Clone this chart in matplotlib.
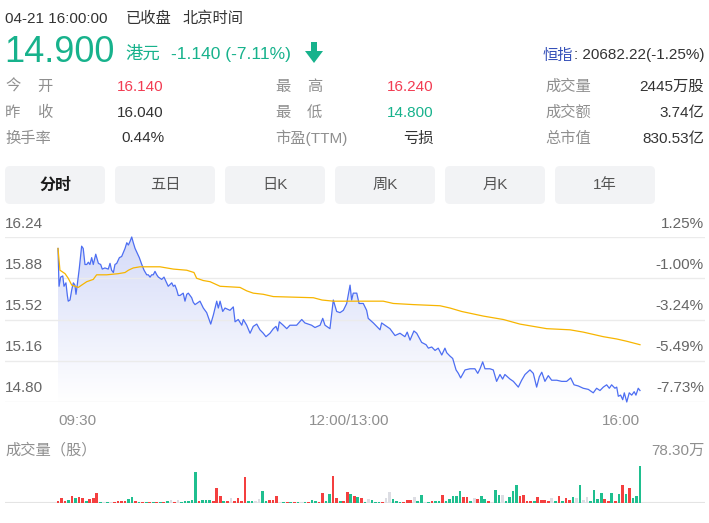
import numpy as np
import matplotlib.pyplot as plt
from matplotlib.patches import FancyBboxPatch, Polygon
from matplotlib.colors import LinearSegmentedColormap

plt.rcParams['font.family'] = ['Liberation Sans', 'Noto Sans CJK SC']

W, H = 709, 523

# =========================
# DATA
# =========================
prev_close = 16.04
y_ticks = [16.24, 15.88, 15.52, 15.16, 14.80]
x_labels = ["09:30", "12:00/13:00", "16:00"]
tabs = ["分时", "五日", "日K", "周K", "月K", "1年"]

# minutes since 09:30 (trading minutes) and price
price_min = [0.0, 0.6, 1.5, 2.7, 3.4, 4.5, 5.3, 5.8, 6.8, 7.8,
             8.7, 9.6, 10.2, 10.9, 12.1, 13.4, 14.3, 15.3, 16.3, 17.2,
             18.1, 19.1, 20.0, 21.4, 22.9, 24.2, 25.1, 26.6, 28.5, 29.5,
             30.4, 31.4, 32.3, 33.3, 34.8, 36.1, 38.0, 39.0, 39.9, 40.8,
             41.8, 42.7, 43.7, 44.6, 46.1, 47.5, 48.8, 50.3, 51.2, 52.2,
             53.1, 54.0, 55.0, 56.0, 56.9, 57.8, 58.8, 60.1, 61.6, 62.5,
             64.5, 65.4, 66.3, 67.3, 68.2, 69.2, 71.0, 72.0, 73.0, 73.9,
             75.8, 76.7, 77.7, 80.5, 82.4, 84.3, 86.6, 88.1, 90.0, 90.9,
             91.9, 93.4, 94.7, 97.5, 99.4, 100.4, 102.2, 104.2, 105.1, 107.0,
             108.9, 110.7, 112.7, 114.5, 116.4, 117.9, 120.2, 122.1, 123.6, 124.6,
             125.5, 127.7, 129.7, 131.5, 135.3, 138.2, 140.0, 143.8, 145.7, 148.6,
             150.1, 151.4, 154.2, 156.1, 158.0, 159.9, 161.8, 163.7, 165.6, 166.5,
             167.4, 169.4, 170.7, 173.1, 175.0, 175.9, 178.8, 180.7, 182.6, 183.5,
             185.4, 188.2, 191.1, 193.9, 196.7, 198.0, 199.6, 201.8, 203.4, 206.2,
             208.7, 210.0, 211.9, 213.8, 215.6, 217.6, 219.4, 220.4, 222.3, 223.8,
             225.7, 227.0, 228.3, 230.8, 233.6, 236.4, 238.0, 239.3, 240.8, 242.1,
             244.9, 246.8, 248.7, 250.6, 252.1, 253.4, 256.3, 258.2, 261.0, 262.9,
             264.8, 267.6, 269.5, 271.4, 272.9, 274.3, 276.1, 278.0, 279.9, 282.8,
             285.6, 288.4, 290.7, 292.6, 295.0, 297.8, 300.7, 303.5, 305.4, 307.3,
             309.2, 311.1, 312.6, 313.9, 315.8, 316.8, 317.7, 319.0, 320.2, 321.1,
             322.5, 323.9, 325.3, 326.7, 327.7, 329.0, 330.0]
price = [16.14, 15.81, 15.89, 15.90, 15.81, 15.84, 15.73, 15.68, 15.69, 15.78,
         15.84, 15.82, 15.74, 15.82, 15.97, 16.16, 16.14, 16.00, 16.00, 16.02,
         16.00, 16.06, 16.00, 16.09, 16.01, 16.00, 15.96, 15.97, 15.96, 16.01,
         15.95, 15.93, 16.00, 16.01, 16.06, 16.07, 16.14, 16.19, 16.17, 16.20,
         16.24, 16.19, 16.14, 16.11, 16.06, 16.00, 15.95, 15.91, 15.91, 15.89,
         15.91, 15.91, 15.94, 15.91, 15.89, 15.88, 15.87, 15.89, 15.84, 15.81,
         15.84, 15.81, 15.82, 15.78, 15.73, 15.73, 15.75, 15.68, 15.74, 15.75,
         15.71, 15.67, 15.65, 15.68, 15.62, 15.58, 15.48, 15.56, 15.68, 15.62,
         15.68, 15.59, 15.62, 15.60, 15.63, 15.50, 15.52, 15.47, 15.52, 15.47,
         15.40, 15.46, 15.48, 15.43, 15.40, 15.37, 15.40, 15.44, 15.46, 15.42,
         15.50, 15.47, 15.44, 15.47, 15.47, 15.52, 15.49, 15.47, 15.45, 15.47,
         15.53, 15.47, 15.44, 15.69, 15.59, 15.58, 15.60, 15.66, 15.82, 15.69,
         15.75, 15.75, 15.66, 15.66, 15.60, 15.53, 15.49, 15.46, 15.43, 15.49,
         15.47, 15.44, 15.38, 15.40, 15.37, 15.41, 15.34, 15.42, 15.40, 15.32,
         15.30, 15.27, 15.28, 15.25, 15.27, 15.21, 15.27, 15.23, 15.20, 15.18,
         15.08, 15.05, 15.01, 15.08, 15.09, 15.09, 15.05, 15.09, 15.15, 15.09,
         15.09, 15.08, 14.98, 15.04, 15.00, 15.04, 15.00, 14.98, 14.93, 14.99,
         15.04, 15.08, 15.05, 14.93, 15.02, 15.06, 14.98, 15.03, 14.99, 14.99,
         14.98, 14.98, 15.01, 14.95, 14.94, 14.92, 14.91, 14.88, 14.92, 14.90,
         14.93, 14.95, 14.92, 14.95, 14.92, 14.93, 14.85, 14.86, 14.82, 14.88,
         14.80, 14.88, 14.86, 14.89, 14.86, 14.92, 14.90]

avg_min = [0.0, 1.1, 2.1, 4.0, 5.8, 7.8, 9.6, 11.5, 13.4, 16.3,
           20.0, 21.9, 27.6, 34.2, 38.0, 39.9, 42.7, 46.5, 57.8, 65.4,
           73.0, 77.1, 78.6, 82.4, 86.2, 91.9, 103.2, 107.0, 110.7, 116.4,
           122.1, 144.8, 149.7, 156.1, 170.3, 184.4, 190.1, 201.5, 216.6, 222.3,
           228.9, 241.1, 252.5, 261.9, 277.1, 290.3, 297.8, 309.2, 316.8, 322.5,
           330.0]
avg_price = [16.14, 15.95, 15.94, 15.92, 15.88, 15.82, 15.81, 15.80, 15.82, 15.85,
             15.87, 15.91, 15.91, 15.92, 15.93, 15.95, 15.97, 15.98, 15.98, 15.96,
             15.95, 15.93, 15.88, 15.86, 15.85, 15.81, 15.80, 15.77, 15.75, 15.74,
             15.72, 15.71, 15.69, 15.68, 15.68, 15.68, 15.66, 15.65, 15.64, 15.62,
             15.59, 15.55, 15.52, 15.48, 15.44, 15.43, 15.41, 15.37, 15.35, 15.33,
             15.30]

# volume per 2-minute bar, in 万股
vol = [4.2, 10.6, 4.2, 7.0, 14.8, 10.6, 12.7, 10.6, 4.2, 8.5,
       10.6, 21.2, 2.1, 2.1, 1.5, 2.1, 2.1, 3.6, 4.9, 4.2,
       9.1, 12.1, 4.2, 1.5, 2.8, 2.1, 2.1, 2.1, 2.8, 2.1,
       2.8, 3.6, 6.3, 2.1, 6.3, 2.1, 3.6, 4.9, 7.0, 65.6,
       3.6, 7.0, 7.0, 5.7, 3.6, 31.7, 14.8, 3.6, 3.6, 10.6,
       4.9, 10.6, 4.9, 55.0, 4.9, 4.2, 3.6, 9.1, 25.4, 3.6,
       7.0, 7.0, 14.8, 2.1, 2.1, 2.1, 2.1, 2.1, 1.5, 2.1,
       2.1, 2.1, 7.0, 3.6, 2.1, 21.2, 3.6, 19.0, 57.1, 10.6,
       4.9, 3.6, 23.3, 19.0, 14.2, 12.7, 10.6, 1.5, 8.5, 5.7,
       1.5, 1.1, 1.5, 10.6, 23.3, 8.5, 3.6, 1.5, 1.5, 7.0,
       7.0, 12.1, 3.6, 16.9, 1.5, 1.1, 3.6, 4.9, 4.9, 16.9,
       3.6, 8.5, 14.2, 15.4, 25.4, 12.1, 12.1, 3.6, 10.6, 8.5,
       14.8, 8.5, 3.6, 1.5, 27.5, 16.3, 16.3, 3.6, 12.1, 25.4,
       38.1, 14.2, 17.6, 4.9, 3.6, 3.6, 12.1, 7.0, 7.0, 3.6,
       10.6, 3.6, 15.4, 4.9, 10.6, 7.0, 12.1, 10.6, 38.1, 7.0,
       12.1, 4.9, 27.5, 8.5, 21.2, 8.5, 4.2, 21.2, 4.9, 19.0,
       38.1, 19.0, 31.7, 10.6, 15.4, 78.3]
# r = up, g = down, n = flat
vol_dir = ("rrrgrgrrgr" "rrgngnrrrr" "ggrgrgrgrg" "rgnrnggggg"
           "rgggrrrgrn" "rrrrggnngg" "rrrngrgrgn" "grggrrggrr"
           "grrgrgrgng" "ggrnngggrr" "rnggngrggr" "gggggrrgnr"
           "ggrnggnggg" "grrrrgrrrr" "ngrgrrgngn" "nggggrrgrg"
           "rgrggg")

# =========================
# COLORS
# =========================
GREEN = '#17b28c'
RED = '#f23b52'
DARK = '#333333'
GRAY = '#8f8f8f'
vol_colors = {'r': '#f43f3f', 'g': '#1fbf8f', 'n': '#dcdde3'}

fig = plt.figure(figsize=(W / 100, H / 100), dpi=100)
fig.patch.set_facecolor('white')

# overlay in pixel coordinates for header / tabs
ov = fig.add_axes([0, 0, 1, 1])
ov.set_xlim(0, W)
ov.set_ylim(H, 0)
ov.axis('off')


def txt(x, y, s, size=11, color=DARK, ha='left', va='baseline', **kw):
    return ov.text(x, y, s, fontsize=size, color=color, ha=ha, va=va, **kw)


# =========================
# HEADER
# =========================
txt(5, 23, "04-21 16:00:00")
txt(126, 23, "已收盘")
txt(183, 23, "北京时间")

txt(4, 62, "14.900", size=26, color=GREEN)
txt(125, 58.5, "港元", size=12.5, color=GREEN)
txt(171, 58.5, "-1.140 (-7.11%)", size=12.5, color=GREEN)
ov.add_patch(Polygon([(311, 42), (317, 42), (317, 51), (323, 51), (314, 63),
                      (305, 51), (311, 51)], closed=True, fc=GREEN, ec='none'))

hsi = txt(704, 59.5, ": 20682.22(-1.25%)", size=11, ha='right')
renderer = fig.canvas.get_renderer()
bb = hsi.get_window_extent(renderer)
txt(bb.x0, 59.5, "恒指", size=11, color='#3550b8', ha='right')

rows_y = [91, 117, 142.5]
txt(5, rows_y[0], "今", color=GRAY); txt(37, rows_y[0], "开", color=GRAY)
txt(5, rows_y[1], "昨", color=GRAY); txt(37, rows_y[1], "收", color=GRAY)
txt(5, rows_y[2], "换手率", color=GRAY)
txt(164, rows_y[0], "16.140", color=RED, ha='right')
txt(164, rows_y[1], "16.040", ha='right')
txt(164, rows_y[2], "0.44%", ha='right')

txt(275, rows_y[0], "最", color=GRAY); txt(307, rows_y[0], "高", color=GRAY)
txt(275, rows_y[1], "最", color=GRAY); txt(307, rows_y[1], "低", color=GRAY)
txt(275, rows_y[2], "市盈(TTM)", color=GRAY)
txt(434, rows_y[0], "16.240", color=RED, ha='right')
txt(434, rows_y[1], "14.800", color=GREEN, ha='right')
txt(434, rows_y[2], "亏损", ha='right')

txt(545, rows_y[0], "成交量", color=GRAY)
txt(545, rows_y[1], "成交额", color=GRAY)
txt(545, rows_y[2], "总市值", color=GRAY)
txt(704, rows_y[0], "2445万股", ha='right')
txt(704, rows_y[1], "3.74亿", ha='right')
txt(704, rows_y[2], "830.53亿", ha='right')

# =========================
# TABS
# =========================
for i, name in enumerate(tabs):
    x0 = 5 + i * 110
    ov.add_patch(FancyBboxPatch((x0, 166), 100, 38,
                                boxstyle='round,pad=0,rounding_size=5',
                                fc='#f2f3f5', ec='none'))
    if i == 0:
        txt(x0 + 50, 185, name, size=11.5, color='#1a1a1a', ha='center',
            va='center', fontweight='bold')
    else:
        txt(x0 + 50, 185, name, size=11, color='#555555', ha='center', va='center')

# =========================
# PRICE CHART
# =========================
ppm = 582 / 330
x_lo = -(58 - 5) / ppm
x_hi = 330 + (705 - 640) / ppm

ax = fig.add_axes([5 / W, 1 - 402 / H, 700 / W, 165 / H])
ax.axis('off')

for t in y_ticks:
    ax.axhline(t, color='#ebebeb', lw=1.0, zorder=2)
    ax.annotate(f"{t:.2f}", xy=(0, t), xycoords=('axes fraction', 'data'),
                xytext=(0, 9.5), textcoords='offset pixels',
                ha='left', va='baseline', fontsize=11, color='#666666')
    pct = (t / prev_close - 1) * 100
    ax.annotate(f"{pct:.2f}%", xy=(1, t), xycoords=('axes fraction', 'data'),
                xytext=(-1, 9.5), textcoords='offset pixels',
                ha='right', va='baseline', fontsize=11, color='#666666')

ymin, ymax = y_ticks[-1], y_ticks[0]
verts = [(price_min[0], ymin)] + list(zip(price_min, price)) + [(price_min[-1], ymin)]
poly = Polygon(verts, closed=True, fc='none', ec='none')
ax.add_patch(poly)
cmap = LinearSegmentedColormap.from_list('fade', ['#ffffff', '#d5dbf8'])
grad = np.linspace(1, 0, 256).reshape(-1, 1)
im = ax.imshow(grad, cmap=cmap, aspect='auto', origin='upper',
               extent=[price_min[0], price_min[-1], ymin, ymax], zorder=1)
im.set_clip_path(poly)

ax.plot(price_min, price, color='#4d6ef2', lw=0.9, zorder=3, clip_on=False)
ax.plot(avg_min, avg_price, color='#f7b500', lw=0.9, zorder=3, clip_on=False)

ax.set_xlim(x_lo, x_hi)
ax.set_ylim(ymin, ymax)

# time labels
lab_y = 1 - 425 / H
to_fig = lambda xd: (ax.transData.transform((xd, ymin))[0]) / W
fig.text(to_fig(0), lab_y, x_labels[0], ha='left', va='baseline', fontsize=11, color=GRAY)
fig.text(to_fig(165), lab_y, x_labels[1], ha='center', va='baseline', fontsize=11, color=GRAY)
fig.text(to_fig(330), lab_y, x_labels[2], ha='right', va='baseline', fontsize=11, color=GRAY)

# =========================
# VOLUME
# =========================
txt(5, 455, "成交量（股）", color=GRAY)
txt(705, 455, f"{max(vol):.2f}万", color=GRAY, ha='right')

ax2 = fig.add_axes([5 / W, 1 - 503 / H, 700 / W, 37 / H])
ax2.axis('off')
vx = np.arange(len(vol)) * 2
ax2.bar(vx, vol, width=1.5, color=[vol_colors[c] for c in vol_dir],
        linewidth=0, zorder=2, clip_on=False)
ax2.axhline(0, color='#e4e4e4', lw=1.5, zorder=1)
ax2.set_xlim(x_lo, x_hi)
ax2.set_ylim(0, max(vol))

fig.savefig("out.png", dpi=100, facecolor='white')
